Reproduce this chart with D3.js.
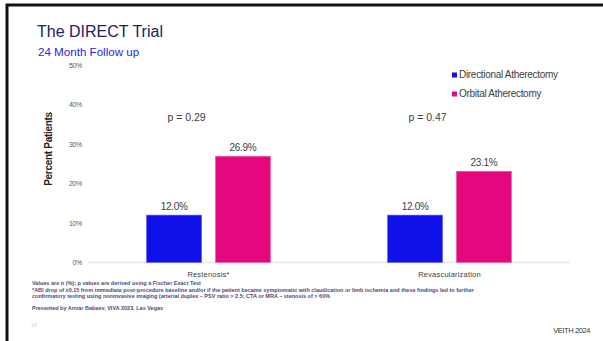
<!DOCTYPE html>
<html><head><meta charset="utf-8">
<script src="https://cdn.jsdelivr.net/npm/d3@7"></script>
<style>
body{margin:0;background:#fff;}
svg{display:block;font-family:"Liberation Sans",Arial,sans-serif;}
</style></head>
<body>
<svg id="c" width="603" height="341"></svg>
<script>
const categories = ["Restenosis*", "Revascularization"];
const seriesNames = ["Directional Atherectomy", "Orbital Atherectomy"];
const directional = [12.0, 12.0];
const orbital = [26.9, 23.1];
const pValues = ["p = 0.29", "p = 0.47"];
const yTicks = [0, 10, 20, 30, 40, 50];
const colors = ["#1010e8", "#e5077d"];

const svg = d3.select("#c");
// frame
svg.append("rect").attr("x",7).attr("y",5).attr("width",600).attr("height",340).attr("fill","none").attr("stroke","#111").attr("stroke-width",3);

svg.append("text").attr("x",37).attr("y",37).attr("font-size",16).attr("fill","#20205e").text("The DIRECT Trial");
svg.append("text").attr("x",38).attr("y",56).attr("font-size",11.6).attr("fill","#1f1ff0").text("24 Month Follow up");

const x0 = d3.scaleBand().domain(categories).range([88,570]);
const y = d3.scaleLinear().domain([0,50]).range([262.5,65]);
const x1 = d3.scaleBand().domain(seriesNames).range([-62,62]).paddingInner(0.2);

// baseline
svg.append("line").attr("x1",88).attr("x2",570).attr("y1",y(0)).attr("y2",y(0)).attr("stroke","#e6e6e6").attr("stroke-width",1.5);

// y ticks
const yAxis = d3.axisLeft(y).tickValues(yTicks).tickFormat(d=>d+"%").tickSize(0).tickPadding(0);
const ga = svg.append("g").attr("transform","translate(82,0)").call(yAxis);
ga.select(".domain").remove();
ga.selectAll("text").attr("font-size",7).attr("fill","#595959").attr("font-family","'Liberation Sans',Arial,sans-serif").attr("letter-spacing","-0.3");

svg.append("text").attr("transform","translate(52,149) rotate(-90)").attr("text-anchor","middle")
  .attr("font-size",10).attr("font-weight","bold").attr("fill","#222").attr("letter-spacing","-0.3").text("Percent Patients");

const data = categories.map((c,i)=>({cat:c, vals:[directional[i], orbital[i]]}));
const g = svg.append("g");
data.forEach((d,i)=>{
  const cx = x0(d.cat) + x0.bandwidth()/2;
  d.vals.forEach((v,j)=>{
    const bx = cx + x1(seriesNames[j]);
    g.append("rect").attr("x",bx).attr("y",y(v)).attr("width",x1.bandwidth()).attr("height",y(0)-y(v))
      .attr("fill",colors[j]).attr("stroke", j===0?"#6060ff":"#f060b0").attr("stroke-width",0.6);
    g.append("text").attr("x",bx+x1.bandwidth()/2).attr("y",y(v)-5).attr("text-anchor","middle")
      .attr("font-size",10).attr("fill","#404040").attr("letter-spacing","-0.3").text(v.toFixed(1)+"%");
  });
  svg.append("text").attr("x",cx).attr("y",277).attr("text-anchor","middle").attr("font-size",7.5)
    .attr("fill","#404040").attr("letter-spacing","0.2").text(d.cat);
  svg.append("text").attr("x",cx-22).attr("y",121).attr("text-anchor","middle").attr("font-size",10.5)
    .attr("fill","#404040").text(pValues[i]);
});

// legend
seriesNames.forEach((s,j)=>{
  const ly = 77 + j*19;
  svg.append("rect").attr("x",452).attr("y",ly-4.5).attr("width",5).attr("height",5).attr("fill",colors[j]);
  svg.append("text").attr("x",459).attr("y",ly+0.5).attr("font-size",10).attr("fill","#404040").attr("letter-spacing","-0.3").text(s);
});

// footnotes
const fc = "#4a4a80";
const fn = [
  [32,285,"Values are n (%); p values are derived using a Fischer Exact Test"],
  [32,292,"*ABI drop of ≥0.15 from immediate post-procedure baseline and/or if the patient became symptomatic with claudication or limb ischemia and these findings led to further"],
  [32,297.5,"confirmatory testing using noninvasive imaging (arterial duplex – PSV ratio > 2.5; CTA or MRA – stenosis of > 60%"],
  [32,310,"Presented by Anvar Babaev, VIVA 2023, Las Vegas"]
];
fn.forEach(f=>svg.append("text").attr("x",f[0]).attr("y",f[1]).attr("font-size",5.5).attr("font-weight","bold").attr("fill",fc).text(f[2]));
svg.append("text").attr("x",31).attr("y",327).attr("font-size",5).attr("fill","#cccccc").text("18");
svg.append("text").attr("x",590).attr("y",333).attr("text-anchor","end").attr("font-size",7.5).attr("fill","#333").attr("letter-spacing","-0.4").text("VEITH 2024");
</script>
</body></html>
